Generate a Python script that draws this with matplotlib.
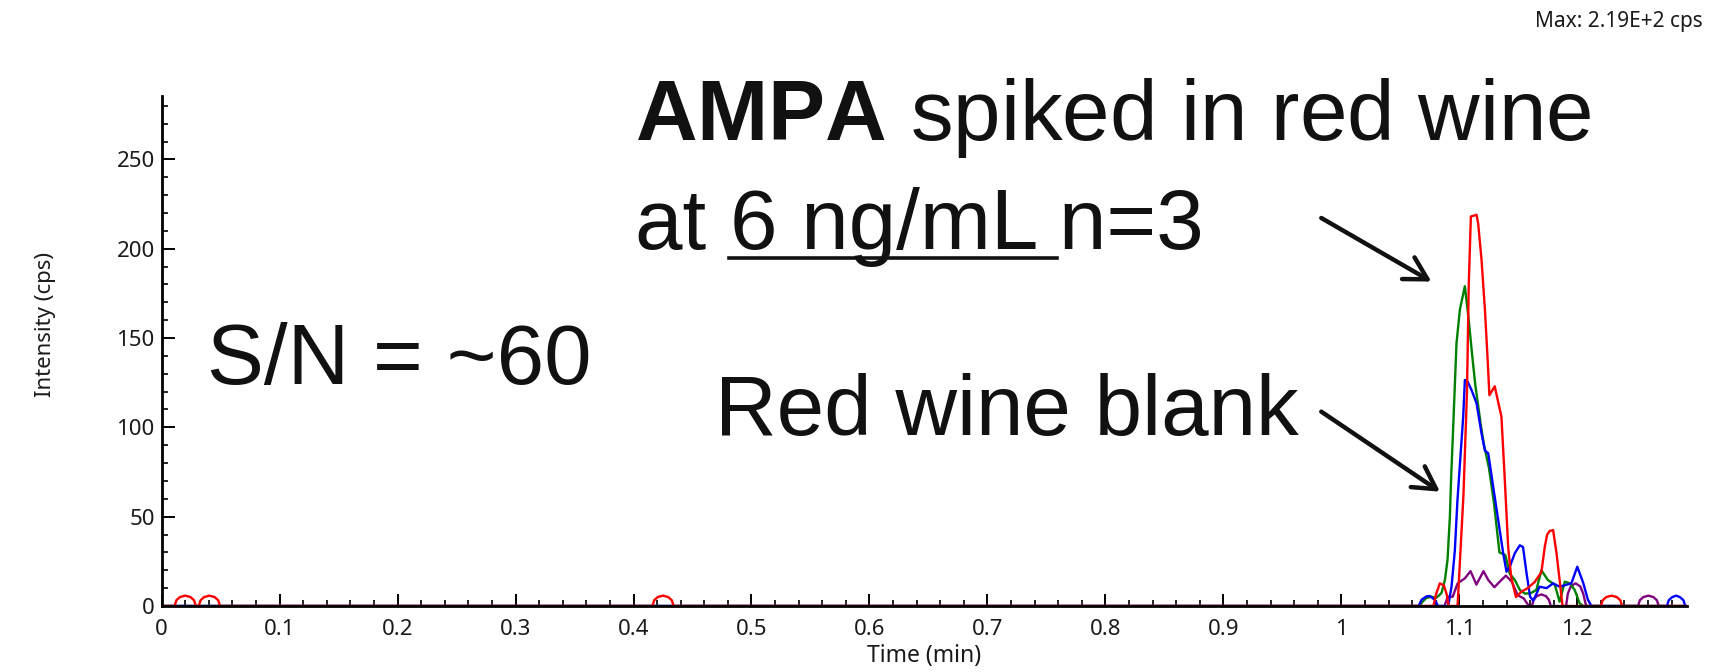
import matplotlib
matplotlib.use("Agg")
import matplotlib.pyplot as plt
from matplotlib.lines import Line2D
from matplotlib.ticker import MultipleLocator, FuncFormatter

plt.rcParams['mathtext.fontset'] = 'custom'
plt.rcParams['mathtext.rm'] = 'Liberation Sans'
plt.rcParams['mathtext.bf'] = 'Liberation Sans:bold'

# chromatogram traces (time in min, intensity in cps)
red_t = [0.0, 0.011, 0.0125, 0.0155, 0.020, 0.0245, 0.0275, 0.029,
         0.0315, 0.033, 0.036, 0.0405, 0.045, 0.048, 0.0495,
         0.416, 0.4175, 0.4205, 0.425, 0.4295, 0.4325, 0.434,
         1.078, 1.0805, 1.0835, 1.087, 1.0895, 1.091,
         1.0985, 1.1035, 1.1065, 1.108, 1.1098, 1.1146, 1.116, 1.1188, 1.1217, 1.124, 1.1255,
         1.130, 1.133, 1.1357, 1.1386, 1.1414, 1.144, 1.148, 1.1526, 1.158, 1.164, 1.1696,
         1.1724, 1.1745, 1.1766, 1.1795, 1.1823, 1.185, 1.1875,
         1.220, 1.2215, 1.2245, 1.229, 1.2335, 1.2365, 1.238, 1.293]
red_i = [0, 0, 3.2, 5.0, 5.8, 5.0, 3.2, 0,
         0, 3.2, 5.0, 5.8, 5.0, 3.2, 0,
         0, 3.2, 5.0, 5.8, 5.0, 3.2, 0,
         0, 7, 12.7, 11.5, 6, 0,
         0, 62, 120, 180, 218, 219, 214, 194, 166, 138, 118,
         123, 114, 106, 70, 33, 16, 5, 8, 10, 13.5, 19,
         33, 40, 42, 42.5, 30, 14.6, 0,
         0, 3.2, 5.0, 5.8, 5.0, 3.2, 0, 0]

green_t = [0.0, 1.066, 1.069, 1.072, 1.0765, 1.080, 1.083, 1.085, 1.0878, 1.090,
           1.092, 1.0929, 1.0948, 1.0976, 1.1005, 1.1047, 1.108, 1.1105, 1.1135, 1.116,
           1.1185, 1.121, 1.1252, 1.1295, 1.134, 1.139, 1.1428, 1.147, 1.1513, 1.1555,
           1.160, 1.1653, 1.1696, 1.175, 1.181, 1.185, 1.1894, 1.1936, 1.1978, 1.202,
           1.205, 1.293]
green_i = [0, 0, 2.5, 4.5, 5.2, 4.5, 6, 7.5, 14.6, 25.8,
           50, 69, 100, 147, 166, 179, 160, 143, 124, 112,
           100, 90, 77, 57, 30, 28.5, 18, 14.6, 9, 7,
           7, 9, 20, 14.6, 11.8, 2.4, 13.6, 12.7, 9, 1.5,
           0, 0]

blue_t = [0.0, 1.0655, 1.068, 1.0722, 1.075, 1.0793, 1.082, 1.0906, 1.0934, 1.0962,
          1.0984, 1.1013, 1.1033, 1.1047, 1.107, 1.1103, 1.1146, 1.1188, 1.1217, 1.1245,
          1.1287, 1.133, 1.1372, 1.140, 1.1428, 1.147, 1.1513, 1.154, 1.157, 1.160,
          1.1626, 1.1655, 1.168, 1.174, 1.1795, 1.185, 1.195, 1.200, 1.205, 1.209,
          1.212, 1.276, 1.2775, 1.2805, 1.2838, 1.287, 1.29, 1.2915, 1.293]
blue_i = [0, 0, 3.5, 5.4, 5.6, 3.4, 0, 0, 10.8, 31,
          59, 87, 106, 126.5, 125.6, 121, 113.5, 96.7, 87, 85.5,
          66.8, 48, 29.5, 19.2, 22, 29.5, 34, 33, 18.3, 5.2,
          3, 7, 10.8, 10, 12.7, 10.8, 12.7, 22, 13, 3.5,
          0, 0, 3.2, 5.0, 5.8, 5.0, 3.2, 0, 0]

purple_t = [0.0, 1.0874, 1.0902, 1.0944, 1.0986, 1.1047, 1.1095, 1.1145, 1.1205, 1.1245,
            1.1297, 1.1357, 1.1395, 1.1445, 1.1495, 1.1545, 1.159,
            1.1615, 1.163, 1.1655, 1.1696, 1.1735, 1.176, 1.1775,
            1.1905, 1.192, 1.1945, 1.1985, 1.2025, 1.205, 1.2075,
            1.2515, 1.253, 1.256, 1.2603, 1.2645, 1.2675, 1.269, 1.293]
purple_i = [0, 0, 5.2, 5.2, 12.7, 15.5, 19.5, 12, 19.5, 14.6,
            10.5, 14.6, 17, 13.6, 6, 4.3, 0,
            0, 3.4, 5.5, 6.5, 5.5, 3.4, 0,
            0, 7, 11, 12.7, 11, 7, 0,
            0, 3.2, 5.0, 5.8, 5.0, 3.2, 0, 0]

max_text = "Max: 2.19E+2 cps"

fig = plt.figure(figsize=(17.12, 6.72), dpi=100)
ax = fig.add_axes([0.0944, 0.0982, 0.891, 0.759])

traces = [(purple_t, purple_i, '#800080'),
          (green_t, green_i, '#008000'),
          (blue_t, blue_i, '#0000ff'),
          (red_t, red_i, '#ff0000')]
for t, i, c in traces:
    ax.plot(t, i, color=c, lw=1.7, solid_joinstyle='round')

ax.set_xlim(0, 1.293)
ax.set_ylim(0, 285.5)
ax.spines[['top', 'right']].set_visible(False)
ax.spines[['left', 'bottom']].set_linewidth(2.0)
ax.spines['bottom'].set_zorder(5)

ax.xaxis.set_major_locator(MultipleLocator(0.1))
ax.xaxis.set_minor_locator(MultipleLocator(0.02))
ax.yaxis.set_major_locator(MultipleLocator(50))
ax.yaxis.set_minor_locator(MultipleLocator(10))
ax.xaxis.set_major_formatter(FuncFormatter(lambda v, p: f"{v:g}"))

ax.tick_params(which='major', direction='in', length=9, width=1.4)
ax.tick_params(which='minor', direction='in', length=4.5, width=1.2)
ax.tick_params(axis='x', pad=9)
ax.tick_params(axis='y', pad=5)
for lab in ax.get_xticklabels() + ax.get_yticklabels():
    lab.set_fontfamily('Noto Sans')
    lab.set_fontsize(16)
    lab.set_color('#1a1a1a')

fig.text(46 / 1712, (672 - 325) / 672, "Intensity (cps)", rotation=90,
         ha='center', va='center', fontsize=16, family='Noto Sans', color='#1a1a1a')
fig.text(924 / 1712, (672 - 656) / 672, "Time (min)",
         ha='center', va='center', fontsize=16.5, family='Noto Sans', color='#1a1a1a')
fig.text(1703 / 1712, 650 / 672, max_text, ha='right', va='center',
         fontsize=15, family='Noto Sans', color='#1a1a1a')

# big annotations
big = dict(fontsize=61.5, family='Liberation Sans', color='#111111', va='baseline')
fig.text(0.371, 0.7917, r"$\mathbf{AMPA}$ spiked in red wine", **big)
fig.text(0.371, 0.6295, "at 6 ng/mL n=3", **big)
fig.add_artist(Line2D([729 / 1712, 1057 / 1712], [0.616, 0.616], lw=2.6, color='#111111'))
fig.text(0.1212, 0.4286, "S/N = ~60", **big)
fig.text(0.4176, 0.3533, "Red wine blank", **big)

arrow = dict(arrowstyle='->,head_length=0.8,head_width=0.45', lw=3.2, color='#111111',
             shrinkA=0, shrinkB=0, mutation_scale=20)
ax.annotate('', xy=(1.0764, 181.6), xytext=(0.983, 217.2), arrowprops=arrow)
ax.annotate('', xy=(1.0836, 64), xytext=(0.983, 108.8), arrowprops=arrow)

fig.savefig('out.png', dpi=100)
